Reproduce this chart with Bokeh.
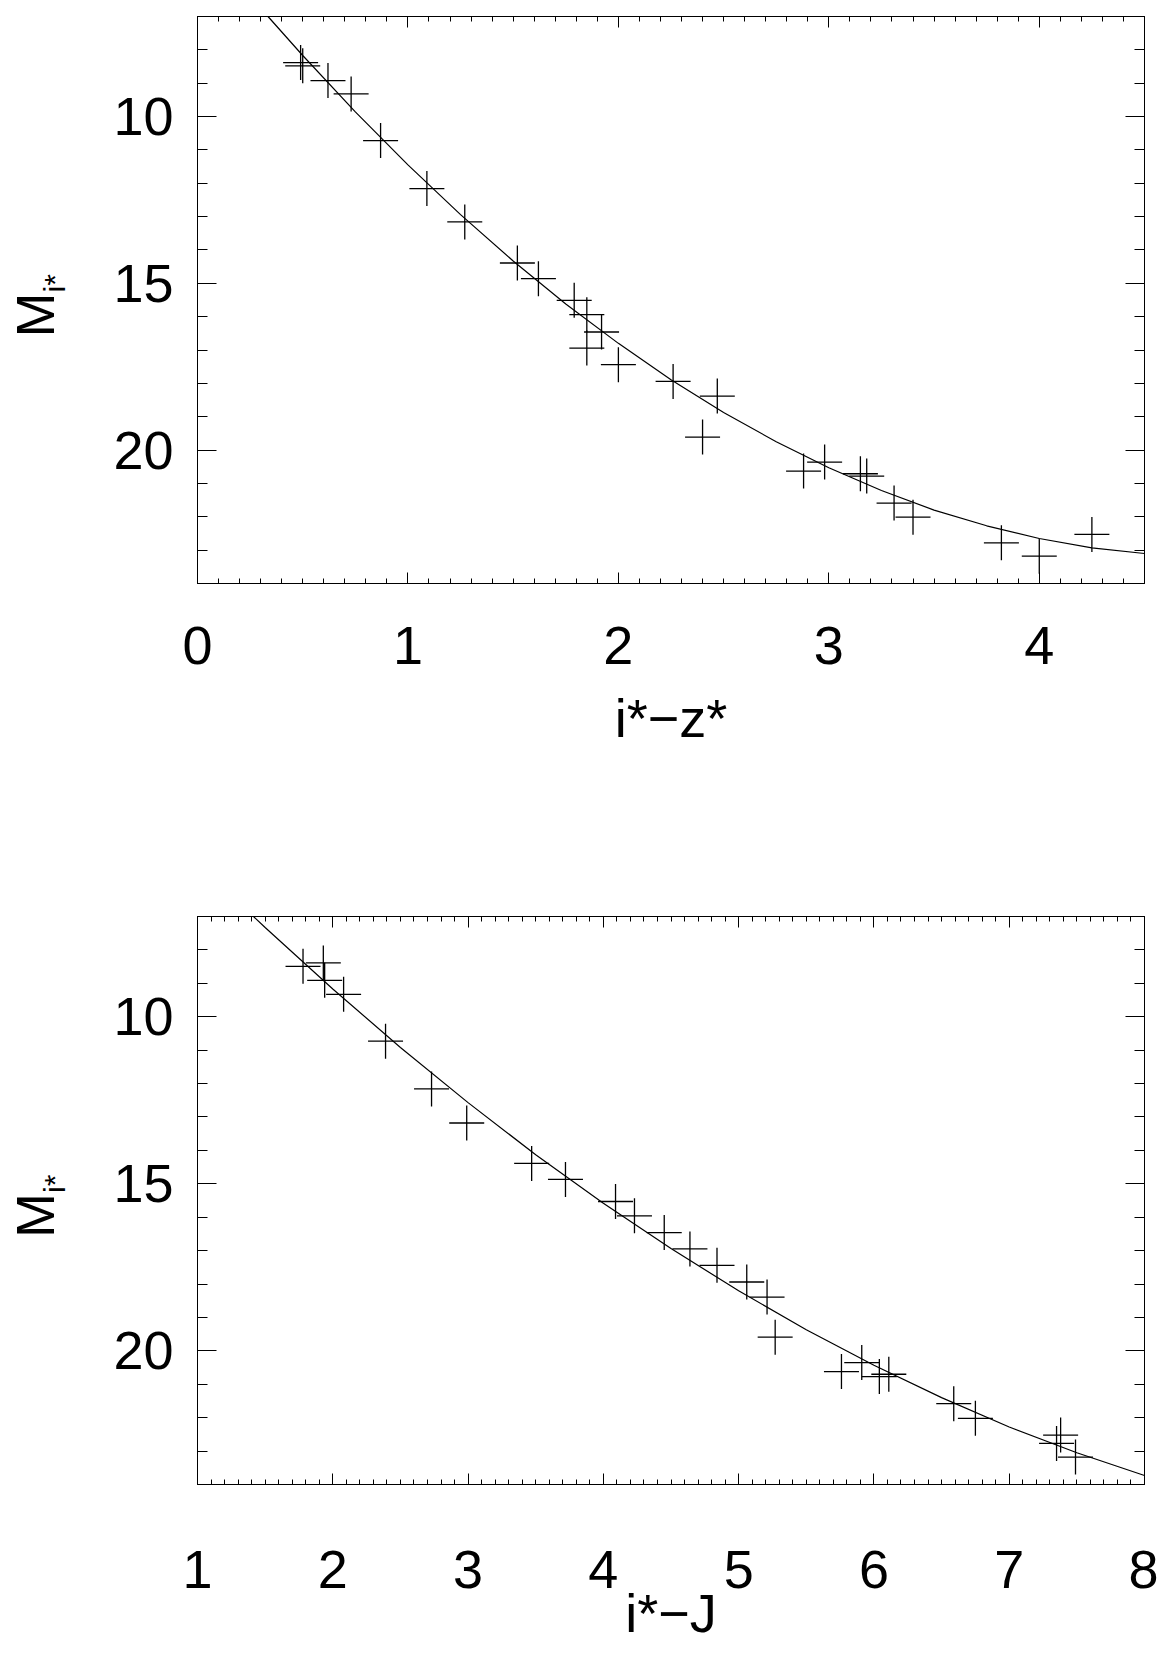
from bokeh.plotting import figure
from bokeh.layouts import column
from bokeh.models import Range1d, LinearAxis, SingleIntervalTicker
from bokeh.embed import file_html
from bokeh.resources import INLINE

# ---- data: top panel (i* - z* vs M_i*) ----
iz_color = [0.49, 0.50, 0.62, 0.73, 0.87, 1.09, 1.27, 1.52, 1.62, 1.79, 1.85, 1.85, 1.92,
            2.00, 2.26, 2.47, 2.40, 2.88, 2.98, 3.15, 3.18, 3.31, 3.40, 3.82, 4.00, 4.25]
iz_mag = [8.38, 8.48, 8.92, 9.32, 10.72, 12.16, 13.16, 14.39, 14.86, 15.51, 15.94, 16.94, 16.46,
          17.44, 17.94, 18.38, 19.61, 20.63, 20.36, 20.71, 20.78, 21.59, 22.01, 22.78, 23.18, 22.53]
iz_fit_x = [0.335, 0.5, 0.75, 1.0, 1.25, 1.5, 1.75, 2.0, 2.25, 2.5, 2.75, 3.0, 3.25, 3.5, 3.75, 4.0, 4.25, 4.5]
iz_fit_y = [7.00, 8.17, 9.86, 11.45, 12.94, 14.33, 15.62, 16.80, 17.89, 18.87, 19.75, 20.53, 21.21,
            21.80, 22.27, 22.65, 22.93, 23.10]

# ---- data: bottom panel (i* - J vs M_i*) ----
ij_color = [1.78, 1.93, 1.94, 2.08, 2.39, 2.73, 2.99, 3.47, 3.72, 4.09, 4.23, 4.45, 4.64,
            4.84, 5.06, 5.21, 5.27, 5.76, 5.91, 6.04, 6.11, 6.59, 6.75, 7.38, 7.35, 7.49]
ij_mag = [8.49, 8.39, 8.91, 9.33, 10.73, 12.16, 13.18, 14.39, 14.87, 15.53, 15.96, 16.46, 16.95,
          17.44, 17.94, 18.39, 19.59, 20.62, 20.35, 20.77, 20.70, 21.58, 22.02, 22.52, 22.77, 23.18]
ij_fit_x = [1.414, 1.5, 2.0, 2.5, 3.0, 3.5, 4.0, 4.5, 5.0, 5.5, 6.0, 6.5, 7.0, 7.5, 8.0]
ij_fit_y = [7.00, 7.33, 9.17, 10.92, 12.57, 14.13, 15.58, 16.94, 18.20, 19.37, 20.43, 21.40,
            22.28, 23.05, 23.73]

y_title_main = "M"
y_title_sub = "i*"

FONT = "Liberation Sans"
FS = "54px"
NB = "\u00a0"
ZW = "\u200b"


def style_axis(ax, interval, nminor, major_in, minor_in, labels, standoff=0):
    ax.ticker = SingleIntervalTicker(interval=interval, num_minor_ticks=nminor)
    ax.axis_line_color = "black"
    ax.axis_line_width = 1
    ax.major_tick_line_color = "black"
    ax.minor_tick_line_color = "black"
    ax.major_tick_line_width = 1
    ax.minor_tick_line_width = 1
    ax.major_tick_in = major_in
    ax.major_tick_out = 0
    ax.minor_tick_in = minor_in
    ax.minor_tick_out = 0
    ax.major_label_text_font = FONT
    ax.major_label_text_font_style = "normal"
    if labels:
        ax.major_label_text_color = "black"
        ax.major_label_text_font_size = FS
        ax.major_label_standoff = standoff
    else:
        ax.major_label_text_color = None
        ax.major_label_text_font_size = "1px"
        ax.major_label_standoff = 0


def set_title(ax, text, size, standoff):
    ax.axis_label = text
    ax.axis_label_text_font = FONT
    ax.axis_label_text_font_size = size
    ax.axis_label_text_font_style = "normal"
    ax.axis_label_text_color = "black"
    ax.axis_label_standoff = standoff


def make_panel(xr, height, top_border, bottom_border, xs, ys, fx, fy, xtitle,
               xl_standoff, xt_standoff):
    p = figure(width=1158, height=height, x_range=Range1d(*xr), y_range=Range1d(24, 7),
               output_backend="svg", toolbar_location=None,
               min_border_left=197, min_border_right=14,
               min_border_top=top_border, min_border_bottom=bottom_border)
    p.grid.visible = False
    p.outline_line_color = "black"
    p.outline_line_width = 1
    p.background_fill_color = "white"
    p.border_fill_color = "white"

    xa = p.xaxis[0]
    style_axis(xa, 1, 10, 11, 5, True, xl_standoff)
    set_title(xa, xtitle, FS, xt_standoff)

    # inner left axis: tick labels and the subscript of the title
    ya = p.yaxis[0]
    style_axis(ya, 5, 5, 19, 10, True, 24)
    set_title(ya, NB * 4 + y_title_sub, "30px", 39)

    # outer left axis: only the main letter of the title
    outer = LinearAxis()
    style_axis(outer, 5, 5, 0, 0, False)
    outer.axis_line_color = None
    outer.major_tick_line_color = None
    outer.minor_tick_line_color = None
    set_title(outer, y_title_main + NB * 2 + ZW, FS, -29)
    p.add_layout(outer, "left")

    top = LinearAxis()
    style_axis(top, 1, 10, 11, 5, False)
    p.add_layout(top, "above")
    right = LinearAxis()
    style_axis(right, 5, 5, 19, 10, False)
    p.add_layout(right, "right")

    p.line(fx, fy, line_color="black", line_width=1.2)
    p.scatter(xs, ys, marker="cross", size=35, line_color="black", line_width=1.3)
    return p


p1 = make_panel((0, 4.5), 783, 16, 200, iz_color, iz_mag, iz_fit_x, iz_fit_y,
                "i*\u2212z*", 43, 21)
p2 = make_panel((1, 8), 869, 133, 168, ij_color, ij_mag, ij_fit_x, ij_fit_y,
                "i*\u2212J", 66, -8)

layout = column(p1, p2)
open("out.html", "w").write(file_html(layout, INLINE))
